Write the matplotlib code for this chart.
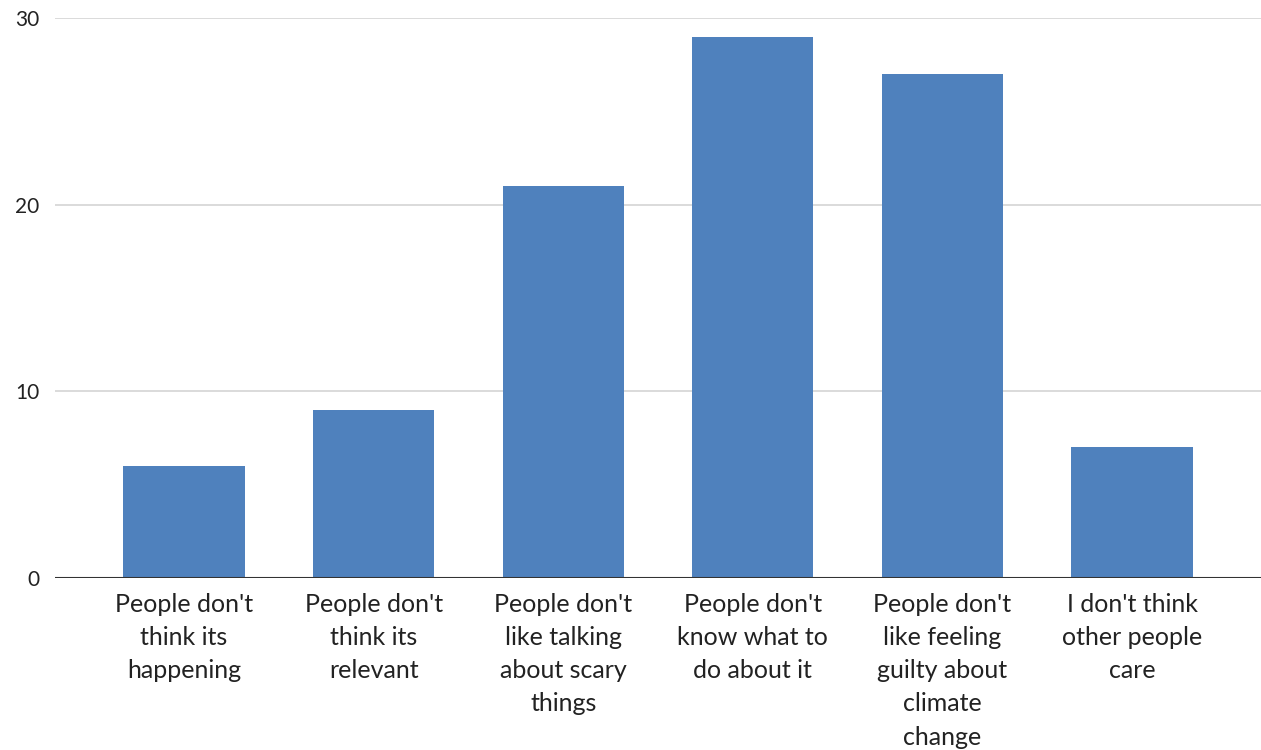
import matplotlib.pyplot as plt
import numpy as np

# -----------------------------
# Data
# -----------------------------
categories = [
    "People don't\nthink its\nhappening",
    "People don't\nthink its\nrelevant",
    "People don't\nlike talking\nabout scary\nthings",
    "People don't\nknow what to\ndo about it",
    "People don't\nlike feeling\nguilty about\nclimate\nchange",
    "I don't think\nother people\ncare",
]
values = [6, 9, 21, 29, 27, 7]
y_ticks = [0, 10, 20, 30]

# -----------------------------
# Figure
# -----------------------------
plt.rcParams['font.family'] = ['Lato', 'DejaVu Sans']
fig = plt.figure(figsize=(12.61, 7.5), dpi=100)
ax = fig.add_axes([55 / 1261, 1 - 578 / 750, 1 - 55 / 1261, (578 - 18) / 750])

x = np.arange(len(categories))
ax.bar(x, values, width=0.64, color='#4f81bd', zorder=3)

ax.set_xlim(-0.68, 5.68)
ax.set_ylim(0, 30)

ax.set_yticks(y_ticks)
ax.set_yticklabels([str(v) for v in y_ticks], fontsize=15, color='#222222')
ax.set_xticks(x)
ax.set_xticklabels(categories, fontsize=18, color='#222222', linespacing=1.53)

ax.tick_params(axis='both', length=0)
ax.tick_params(axis='y', pad=11)
ax.tick_params(axis='x', pad=11)

# Grid
ax.grid(axis='y', color='#d4d4d4', linewidth=1.2, zorder=0)
ax.axhline(0, color='#333333', linewidth=1.5, zorder=4)

for s in ax.spines.values():
    s.set_visible(False)

fig.savefig('out.png', dpi=100)
